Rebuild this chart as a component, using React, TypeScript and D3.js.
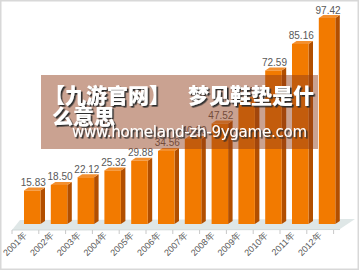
import React from "react";
import * as d3 from "d3";

const years = ["2001年","2002年","2003年","2004年","2005年","2006年","2007年","2008年","2009年","2010年","2011年","2012年"];
const values = [15.83, 18.5, 22.12, 25.32, 29.88, 34.56, 40.2, 47.52, 58.8, 72.59, 85.16, 97.42];
const titleA = "【九游官网】";
const titleB = "梦见鞋垫是什";
const titleC = "么意思";
const url = "www.homeland-zh-9ygame.com";

const W = 360, H = 271;

export default function App() {
  const x = d3.scaleBand<string>().domain(years).range([12, 333.6]).padding(0);
  const y = d3.scaleLinear().domain([0, 97.42]).range([224, 18]);
  const bw = 16.5, dx = 4.5, dy = 3, off = 12;
  const numFont = "'Liberation Sans', Arial, sans-serif";
  const cjk = "'Noto Sans CJK SC', sans-serif";

  return (
    <svg width={W} height={H} style={{ position: "absolute", left: 0, top: 0 }}>
      <defs>
        <filter id="sh" x="-10%" y="-30%" width="120%" height="160%">
          <feDropShadow dx={1.6} dy={1.6} stdDeviation={0.3} floodColor="#2e2e2e" floodOpacity={1} />
        </filter>
      </defs>
      <rect x={0} y={0} width={W} height={H} fill="#fff" />
      <rect x={0.75} y={0.75} width={357.5} height={268.5} fill="none" stroke="#d8d8d8" strokeWidth={1.5} />
      {/* floor */}
      <polygon points={`20,220 355,219 340,229 12,230`} fill="#dfe7e7" />
      <line x1={12} x2={340} y1={230} y2={229.5} stroke="#d0d8d8" strokeWidth={1} />
      {years.map((yr, i) => (
        <line key={"t" + i} x1={x(yr)!} x2={x(yr)!} y1={230} y2={234} stroke="#c8c8c8" strokeWidth={1} />
      ))}
      <line x1={x.range()[1]} x2={x.range()[1]} y1={230} y2={234} stroke="#c8c8c8" strokeWidth={1} />
      {/* bars */}
      {values.map((v, i) => {
        const x0 = x(years[i])! + off;
        const top = y(v);
        const bot = y(0);
        return (
          <g key={"b" + i}>
            <polygon points={`${x0 + bw},${top} ${x0 + bw + dx},${top - dy} ${x0 + bw + dx},${bot - dy} ${x0 + bw},${bot}`} fill="#b24f00" />
            <polygon points={`${x0},${top} ${x0 + dx},${top - dy} ${x0 + bw + dx},${top - dy} ${x0 + bw},${top}`} fill="#f39030" />
            <rect x={x0} y={top} width={bw} height={bot - top} fill="#f27a00" />
            <text x={x0 + bw / 2 + 1} y={top - 4.5} textAnchor="middle" fontSize={10} fontFamily={numFont} fill="#595959">
              {v.toFixed(2)}
            </text>
          </g>
        );
      })}
      {/* x labels */}
      {years.map((yr, i) => {
        const cx = x(yr)! + x.bandwidth() / 2;
        return (
          <text key={"l" + i} transform={`translate(${cx + 2},${236}) rotate(-45)`} textAnchor="end" fontSize={9} fontFamily={numFont} fill="#595959">
            {yr}
          </text>
        );
      })}
      {/* watermark overlay */}
      <rect x={41} y={75} width={277} height={74} fill="rgb(145,60,25)" fillOpacity={0.48} />
      <g fontFamily={cjk} fontWeight={900} fontSize={21} fill="#fff" filter="url(#sh)">
        <text x={44} y={103}>{titleA}</text>
        <text x={188} y={103}>{titleB}</text>
        <text x={52} y={124}>{titleC}</text>
      </g>
      <g fontFamily="'DejaVu Sans', sans-serif" fontSize={15} fill="#fff" filter="url(#sh)">
        <text x={72} y={137} textLength={235} lengthAdjust="spacing">{url}</text>
      </g>
    </svg>
  );
}
